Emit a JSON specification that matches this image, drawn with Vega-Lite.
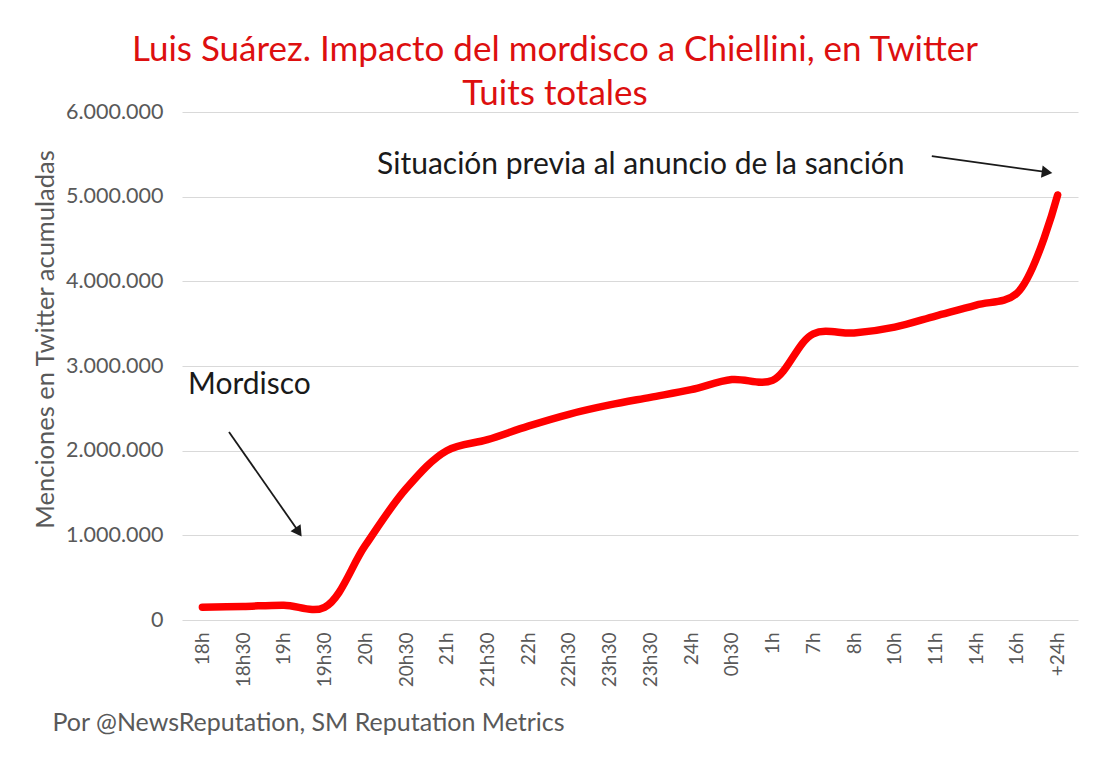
{
  "$schema": "https://vega.github.io/schema/vega-lite/v6.json",
  "width": 896,
  "height": 508,
  "autosize": {"type": "none"},
  "padding": {"left": 182, "top": 112, "right": 32, "bottom": 149},
  "background": "white",
  "config": {
    "locale": {"number": {"decimal": ",", "thousands": ".", "grouping": [3], "currency": ["", " €"]}},
    "view": {"stroke": null},
    "font": "Lato"
  },
  "title": {
    "text": ["Luis Suárez. Impacto del mordisco a Chiellini, en Twitter", "Tuits totales"],
    "color": "#dd0f0f",
    "font": "Lato",
    "fontSize": 35,
    "fontWeight": "normal",
    "lineHeight": 44,
    "anchor": "middle",
    "dx": -75,
    "offset": -11
  },
  "datasets": {
    "series": [
      {"i": 0, "label": "18h", "value": 150000},
      {"i": 1, "label": "18h30", "value": 160000},
      {"i": 2, "label": "19h", "value": 175000},
      {"i": 3, "label": "19h30", "value": 150000},
      {"i": 4, "label": "20h", "value": 880000},
      {"i": 5, "label": "20h30", "value": 1550000},
      {"i": 6, "label": "21h", "value": 2000000},
      {"i": 7, "label": "21h30", "value": 2130000},
      {"i": 8, "label": "22h", "value": 2290000},
      {"i": 9, "label": "22h30", "value": 2430000},
      {"i": 10, "label": "23h30", "value": 2540000},
      {"i": 11, "label": "23h30", "value": 2630000},
      {"i": 12, "label": "24h", "value": 2720000},
      {"i": 13, "label": "0h30", "value": 2840000},
      {"i": 14, "label": "1h", "value": 2830000},
      {"i": 15, "label": "7h", "value": 3380000},
      {"i": 16, "label": "8h", "value": 3390000},
      {"i": 17, "label": "10h", "value": 3460000},
      {"i": 18, "label": "11h", "value": 3590000},
      {"i": 19, "label": "14h", "value": 3720000},
      {"i": 20, "label": "16h", "value": 3860000},
      {"i": 21, "label": "+24h", "value": 5020000}
    ],
    "arrows": [
      {"name": "mordisco", "x": 0.654, "y": 2220000, "x2": 2.34, "y2": 1060000},
      {"name": "sancion", "x": 17.91, "y": 5480000, "x2": 20.7, "y2": 5292000}
    ],
    "heads": [
      {"name": "mordisco", "x": 2.363, "y": 1039000},
      {"name": "sancion", "x": 20.74, "y": 5287000}
    ],
    "notes": [
      {"x": -0.353, "y": 2770000, "text": "Mordisco"},
      {"x": 4.29, "y": 5370000, "text": "Situación previa al anuncio de la sanción"}
    ]
  },
  "layer": [
    {
      "data": {"name": "series"},
      "mark": {"type": "line", "color": "#ff0000", "strokeWidth": 7.5, "strokeCap": "round", "strokeJoin": "round", "interpolate": "catmull-rom"},
      "encoding": {
        "x": {
          "field": "i", "type": "quantitative",
          "scale": {"domain": [-0.5, 21.5], "nice": false, "zero": false},
          "axis": {
            "values": [0,1,2,3,4,5,6,7,8,9,10,11,12,13,14,15,16,17,18,19,20,21],
            "labelExpr": "['18h','18h30','19h','19h30','20h','20h30','21h','21h30','22h','22h30','23h30','23h30','24h','0h30','1h','7h','8h','10h','11h','14h','16h','+24h'][datum.value]",
            "labelAngle": -90,
            "labelFontSize": 19,
            "labelColor": "#595959",
            "labelPadding": 12,
            "labelFont": "Lato",
            "ticks": false,
            "domain": false,
            "grid": false,
            "labelOverlap": false,
            "title": "Por @NewsReputation, SM Reputation Metrics",
            "titleAnchor": "start",
            "titleAlign": "left",
            "titleBaseline": "middle",
            "titleX": -130,
            "titleY": 102,
            "titleFontSize": 25,
            "titleFontWeight": "normal",
            "titleColor": "#595959",
            "titleFont": "Lato"
          }
        },
        "y": {
          "field": "value", "type": "quantitative",
          "scale": {"domain": [0, 6000000], "nice": false},
          "axis": {
            "values": [0, 1000000, 2000000, 3000000, 4000000, 5000000, 6000000],
            "format": ",d",
            "labelFontSize": 21.5,
            "labelColor": "#595959",
            "labelPadding": 19,
            "labelFont": "Lato",
            "ticks": false,
            "domain": false,
            "grid": true,
            "gridColor": "#d9d9d9",
            "gridWidth": 1.2,
            "title": "Menciones en Twitter acumuladas",
            "titleAngle": -90,
            "titleX": -137,
            "titleY": 227,
            "titleAlign": "center",
            "titleBaseline": "middle",
            "titleFontSize": 25.5,
            "titleFontWeight": "normal",
            "titleColor": "#595959",
            "titleFont": "Lato"
          }
        }
      }
    },
    {
      "data": {"name": "arrows"},
      "mark": {"type": "rule", "color": "#1a1a1a", "strokeWidth": 1.8},
      "encoding": {
        "x": {"field": "x", "type": "quantitative"},
        "y": {"field": "y", "type": "quantitative"},
        "x2": {"field": "x2"},
        "y2": {"field": "y2"}
      }
    },
    {
      "data": {"name": "heads"},
      "transform": [{"filter": "datum.name == 'mordisco'"}],
      "mark": {"type": "point", "shape": "triangle-up", "filled": true, "color": "#1a1a1a", "opacity": 1, "size": 150, "angle": 145},
      "encoding": {
        "x": {"field": "x", "type": "quantitative"},
        "y": {"field": "y", "type": "quantitative"}
      }
    },
    {
      "data": {"name": "heads"},
      "transform": [{"filter": "datum.name == 'sancion'"}],
      "mark": {"type": "point", "shape": "triangle-up", "filled": true, "color": "#1a1a1a", "opacity": 1, "size": 150, "angle": 98},
      "encoding": {
        "x": {"field": "x", "type": "quantitative"},
        "y": {"field": "y", "type": "quantitative"}
      }
    },
    {
      "data": {"name": "notes"},
      "mark": {"type": "text", "align": "left", "baseline": "middle", "fontSize": 30, "font": "Lato", "color": "#1a1a1a"},
      "encoding": {
        "x": {"field": "x", "type": "quantitative"},
        "y": {"field": "y", "type": "quantitative"},
        "text": {"field": "text"}
      }
    }
  ]
}
